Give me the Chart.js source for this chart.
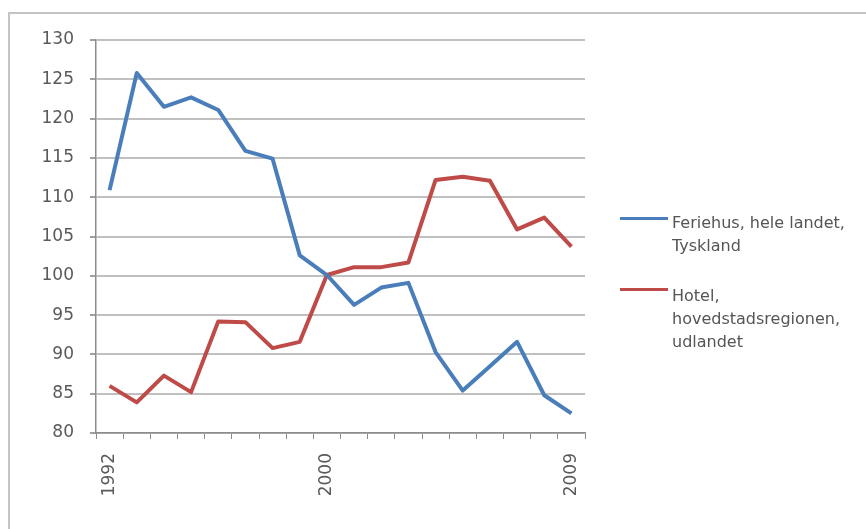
<!DOCTYPE html>
<html>
<head>
<meta charset="utf-8">
<script src="https://cdn.jsdelivr.net/npm/chart.js@4.4.1/dist/chart.umd.min.js"></script>
<style>
  body { margin: 0; background: #fff; }
  #wrap { position: relative; width: 866px; height: 529px; overflow: hidden; }
  #frame { position: absolute; left: 8px; top: 12px; width: 900px; height: 600px;
           border-left: 2px solid #c4c4c4; border-top: 2px solid #c4c4c4; }
  canvas { position: absolute; left: 0; top: 0; }
  .leg { position: absolute; font-family: "DejaVu Sans", sans-serif; font-size: 16px;
         color: #555; line-height: 23px; white-space: nowrap; }
  .sw { position: absolute; width: 48px; height: 3px; }
</style>
</head>
<body>
<div id="wrap">
  <div id="frame"></div>
  <canvas id="chart" width="866" height="529"></canvas>
  <div class="sw" style="left:620px; top:217px; background:#4a7ebb;"></div>
  <div class="leg" style="left:672px; top:211px;">Feriehus, hele landet,<br>Tyskland</div>
  <div class="sw" style="left:620px; top:288px; background:#be4b48;"></div>
  <div class="leg" style="left:672px; top:284px;">Hotel,<br>hovedstadsregionen,<br>udlandet</div>
</div>
<script>
const years = ['1992', '1993', '1994', '1995', '1996', '1997', '1998', '1999', '2000',
  '2001', '2002', '2003', '2004', '2005', '2006', '2007', '2008', '2009'];
const shownYears = ['1992', '2000', '2009'];

const feriehus = [110.9, 125.8, 121.5, 122.7, 121.1, 115.9, 114.9, 102.6, 100.1,
  96.3, 98.5, 99.1, 90.3, 85.4, 88.5, 91.6, 84.8, 82.5];
const hotel = [86.0, 83.9, 87.3, 85.2, 94.2, 94.1, 90.8, 91.6, 100.1,
  101.1, 101.1, 101.7, 112.2, 112.6, 112.1, 105.9, 107.4, 103.7];

const labelFeriehus = 'Feriehus, hele landet, Tyskland';
const labelHotel = 'Hotel, hovedstadsregionen, udlandet';

const gray = '#5a5a5a';

new Chart(document.getElementById('chart'), {
  type: 'line',
  data: {
    labels: years,
    datasets: [
      {
        label: labelFeriehus,
        data: feriehus,
        borderColor: '#4a7ebb',
        borderWidth: 4,
        pointRadius: 0,
        tension: 0,
        borderJoinStyle: 'round',
      },
      {
        label: labelHotel,
        data: hotel,
        borderColor: '#be4b48',
        borderWidth: 4,
        pointRadius: 0,
        tension: 0,
        borderJoinStyle: 'round',
      },
    ],
  },
  options: {
    responsive: false,
    animation: false,
    layout: { padding: { top: 40, right: 281, left: 0, bottom: 0 } },
    plugins: { legend: { display: false }, tooltip: { enabled: false } },
    scales: {
      x: {
        offset: true,
        grid: { offset: true, drawOnChartArea: false, tickLength: 6, color: '#8c8c8c', lineWidth: 1 },
        border: { color: '#8c8c8c', width: 1.5 },
        ticks: {
          autoSkip: false,
          minRotation: 90,
          maxRotation: 90,
          padding: 14,
          color: gray,
          font: { family: 'DejaVu Sans', size: 17 },
          callback: function (value) {
            const y = this.getLabelForValue(value);
            return shownYears.includes(y) ? y : '';
          },
        },
        afterFit: (scale) => { scale.height = 96; },
      },
      y: {
        min: 80,
        max: 130,
        grid: { color: '#c0c0c0', lineWidth: 2, tickLength: 6, tickColor: '#a0a0a0' },
        border: { color: '#8c8c8c', width: 1.5 },
        ticks: {
          stepSize: 5,
          padding: 16,
          color: gray,
          font: { family: 'DejaVu Sans', size: 17 },
        },
        afterFit: (scale) => { scale.width = 96; },
      },
    },
  },
});
</script>
</body>
</html>
